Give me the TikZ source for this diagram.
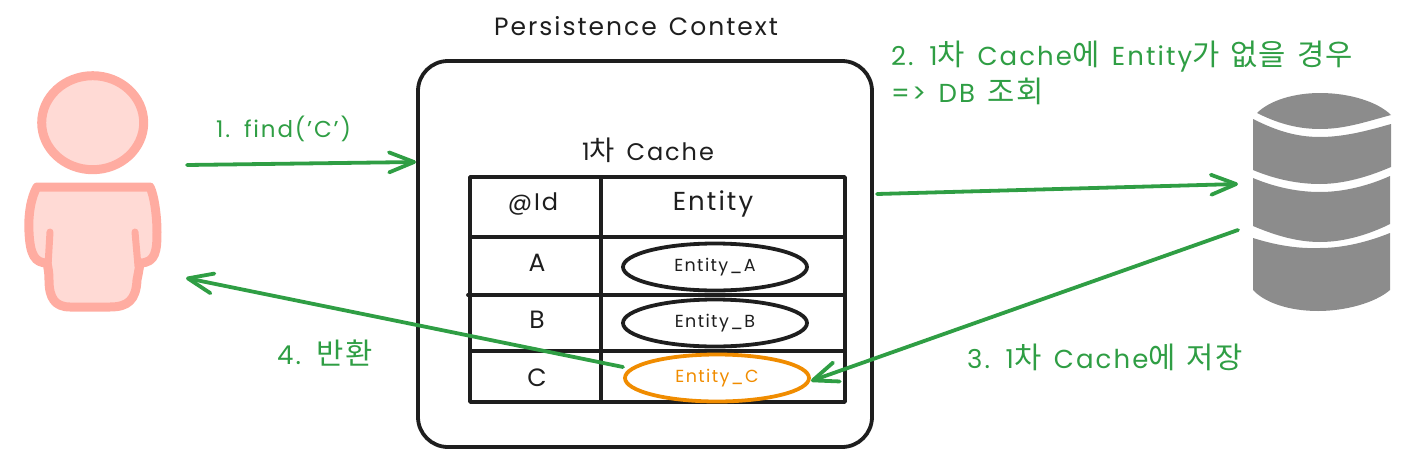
\documentclass[tikz,border=0pt]{standalone}
\usepackage{fontspec}
\setmainfont[LetterSpace=8,WordSpace=1.4]{Poppins}
\newfontfamily\ko[Scale=1.14,LetterSpace=4,WordSpace=1.4]{Noto Sans CJK KR}
\usetikzlibrary{arrows.meta,shapes.geometric}
\definecolor{grn}{HTML}{2F9E44}
\definecolor{org}{HTML}{F08C00}
\definecolor{ink}{HTML}{1E1E1E}
\definecolor{pinkline}{HTML}{FFACA1}
\definecolor{pinkfill}{HTML}{FFDAD5}
\definecolor{dbgray}{HTML}{8C8C8C}
\tikzset{
  conn/.style={draw=grn,line width=3.8pt,line cap=round,-{Straight Barb[length=25pt,width=20pt,line width=3.8pt,round]}},
  txt/.style={font=\fontsize{#1}{#1}\selectfont,inner sep=0pt,text=ink},
  greentxt/.style={font=\fontsize{#1}{#1}\selectfont,inner sep=0pt,text=grn,anchor=west},
  rowline/.style={draw=ink,line width=3.8pt,line cap=round,line join=round},
  cellell/.style={shape=ellipse,draw=ink,line width=3.8pt,minimum width=184pt,minimum height=47pt,inner sep=0pt,font=\fontsize{17.5}{17.5}\selectfont,text=ink},
  pers/.style={draw=pinkline,fill=pinkfill,line width=9pt,line join=round,line cap=round},
  dbseg/.style={fill=dbgray,draw=none}
}
\begin{document}
\begin{tikzpicture}[x=1pt,y=-1pt]
\useasboundingbox (0,0) rectangle (1406,458);
% person
\node[pers,shape=ellipse,minimum width=102pt,minimum height=94pt,inner sep=0pt] (head) at (92.7,122.7) {};
\path[pers] (37,187) -- (150,187)
  .. controls (154,195) and (157,215) .. (157,232)
  .. controls (157,250) and (156,263) .. (140,263)
  .. controls (139,270) and (138,275) .. (137,280)
  .. controls (136,300) and (128,307) .. (110,307)
  -- (70,307)
  .. controls (55,307) and (49,298) .. (49,280)
  .. controls (49,272) and (48,268) .. (47,263)
  .. controls (35,263) and (30,255) .. (29,232)
  .. controls (28,215) and (31,197) .. (37,187) -- cycle;
\draw[draw=pinkline,line width=7pt,line cap=round] (50,232) -- (48,266);
\draw[draw=pinkline,line width=7pt,line cap=round] (135,232) -- (138,266);
% container
\draw[rowline,rounded corners=30pt] (418,61) rectangle (872,447);
\node[txt=25] (ctxlabel) at (636,26) {Persistence Context};
\node[txt=24] (cachelabel) at (648,150) {1{\ko 차} Cache};
% table
\draw[rowline] (470,177) rectangle (845,402);
\draw[rowline] (601,177) -- (601,402);
\draw[rowline] (470,237) -- (845,237);
\draw[rowline] (468,295) -- (845,295);
\draw[rowline] (470,351) -- (845,351);
\node[txt=24] (hid) at (533,204) {@Id};
\node[txt=26] (hent) at (713,204) {Entity};
\node[txt=25] (ra) at (537,263) {A};
\node[txt=25] (rb) at (537,320) {B};
\node[txt=25] (rc) at (537,378) {C};
\node[cellell] (ea) at (715,267) {Entity\_A};
\node[cellell] (eb) at (715,323) {Entity\_B};
\node[cellell,draw=org,text=org] (ec) at (717,378) {Entity\_C};
% database
\fill[dbseg] (1257,113) .. controls (1270,100) and (1295,93) .. (1320,93)
  .. controls (1350,93) and (1378,102) .. (1391,115)
  .. controls (1365,122) and (1345,129) .. (1320,129)
  .. controls (1295,129) and (1275,122) .. (1257,113) -- cycle;
\fill[dbseg] (1253,119) .. controls (1275,130) and (1295,137) .. (1320,137)
  .. controls (1345,137) and (1370,130) .. (1391,124)
  -- (1391,167) .. controls (1370,176) and (1345,184) .. (1320,184)
  .. controls (1295,184) and (1272,178) .. (1253,170) -- cycle;
\fill[dbseg] (1253,178) .. controls (1272,186) and (1295,192) .. (1320,192)
  .. controls (1345,192) and (1370,185) .. (1390,176)
  -- (1390,224) .. controls (1370,234) and (1345,242) .. (1320,242)
  .. controls (1295,242) and (1272,234) .. (1253,226) -- cycle;
\fill[dbseg] (1253,238) .. controls (1272,244) and (1295,249) .. (1320,248)
  .. controls (1345,248) and (1370,241) .. (1390,233)
  -- (1390,290) .. controls (1375,303) and (1345,311) .. (1318,311)
  .. controls (1290,311) and (1265,303) .. (1253,290) -- cycle;
% connector ends
\coordinate (pout) at (187,165);
\coordinate (pin) at (186,278);
\coordinate (cin) at (416,162);
\coordinate (cout) at (877,194);
\coordinate (dbin) at (1238,184);
\coordinate (dbout) at (1238,230);
\coordinate (ectip) at (811,381);
\coordinate (ecout) at (623,367);
% arrows
\draw[conn] (pout) -- (cin);
\draw[conn] (cout) -- (dbin);
\draw[conn] (dbout) -- (ectip);
\draw[conn] (ecout) -- (pin);
% labels
\node[greentxt=23] (l1) at (216,129) {1. find('C')};
\node[greentxt=26] (l2a) at (891,57) {2. 1{\ko 차} Cache{\ko 에} Entity{\ko 가 없을 경우}};
\node[greentxt=26] (l2b) at (891,91) {=> DB {\ko 조회}};
\node[greentxt=26] (l3) at (967,357) {3. 1{\ko 차} Cache{\ko 에 저장}};
\node[greentxt=26] (l4) at (277,353) {4. {\ko 반환}};
\end{tikzpicture}
\end{document}
